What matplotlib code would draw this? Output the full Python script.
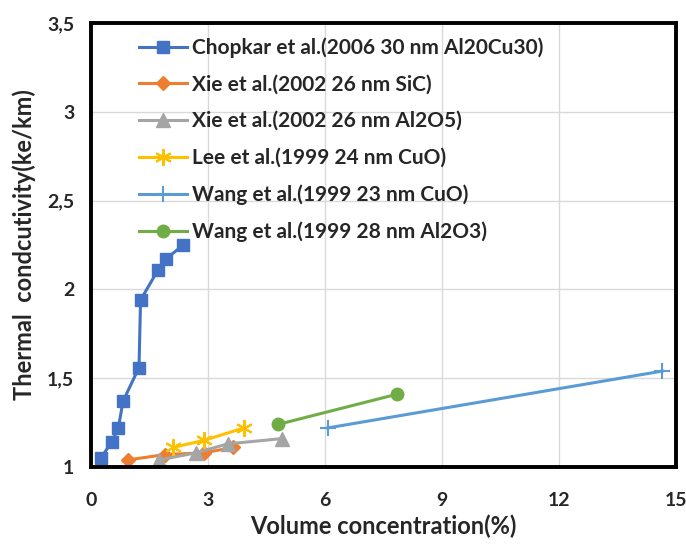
import matplotlib
matplotlib.use("Agg")
import matplotlib.pyplot as plt
from matplotlib.ticker import FuncFormatter

plt.rcParams['font.family'] = ['Lato', 'DejaVu Sans']

# volume concentration (%) and thermal conductivity ratio per study
chopkar_x = [0.25, 0.53, 0.70, 0.82, 1.23, 1.27, 1.72, 1.91, 2.37]
chopkar_y = [1.05, 1.14, 1.22, 1.37, 1.56, 1.94, 2.11, 2.17, 2.25]
xie_sic_x = [0.95, 1.90, 2.90, 3.65]
xie_sic_y = [1.04, 1.07, 1.08, 1.11]
xie_al_x = [1.75, 2.70, 3.50, 4.90]
xie_al_y = [1.04, 1.08, 1.13, 1.16]
lee_x = [2.10, 2.90, 3.92]
lee_y = [1.11, 1.15, 1.22]
wang_cuo_x = [6.07, 14.65]
wang_cuo_y = [1.22, 1.54]
wang_al_x = [4.80, 7.85]
wang_al_y = [1.24, 1.41]

labels = ['Chopkar et al.(2006 30 nm Al20Cu30)',
          'Xie et al.(2002 26 nm SiC)',
          'Xie et al.(2002 26 nm Al2O5)',
          'Lee et al.(1999 24 nm CuO)',
          'Wang et al.(1999 23 nm CuO)',
          'Wang et al.(1999 28 nm Al2O3)']

fig = plt.figure(figsize=(6.86, 5.46), dpi=100)
ax = fig.add_axes([0.1327, 0.1447, 0.8528, 0.8133])

ax.plot(chopkar_x, chopkar_y, color='#4472C4', lw=2.2, marker='s', ms=9, label=labels[0])
ax.plot(xie_sic_x, xie_sic_y, color='#ED7D31', lw=2.2, marker='D', ms=7, label=labels[1])
ax.plot(xie_al_x, xie_al_y, color='#A5A5A5', lw=2.2, marker='^', ms=10, label=labels[2])
ax.plot(lee_x, lee_y, color='#FFC000', lw=2.2, marker=(6, 2, 0), ms=12, mew=1.5, label=labels[3])
ax.plot(wang_cuo_x, wang_cuo_y, color='#5B9BD5', lw=2.2, marker='+', ms=12, mew=1.5, label=labels[4])
ax.plot(wang_al_x, wang_al_y, color='#70AD47', lw=2.2, marker='o', ms=9, label=labels[5])

ax.set_xlim(0, 15)
ax.set_ylim(1, 3.5)
ax.set_xticks([0, 3, 6, 9, 12, 15])
ax.set_yticks([1, 1.5, 2, 2.5, 3, 3.5])
ax.yaxis.set_major_formatter(FuncFormatter(lambda v, p: ('%g' % v).replace('.', ',')))
ax.grid(True, color='#D9D9D9', lw=1)
ax.set_axisbelow(True)
ax.tick_params(length=0, labelsize=14, colors='#262626')
ax.tick_params(axis='x', pad=18)
ax.tick_params(axis='y', pad=12)
for t in ax.get_xticklabels() + ax.get_yticklabels():
    t.set_fontweight('bold')
for s in ax.spines.values():
    s.set_linewidth(2.8)
    s.set_color('black')

ax.set_xlabel('Volume concentration(%)', fontsize=17, fontweight='bold', labelpad=4,
              color='#262626')
ax.set_ylabel('Thermal  condcutivity(ke/km)', fontsize=17, fontweight='bold', labelpad=8,
              color='#262626')

leg = ax.legend(loc='upper left', bbox_to_anchor=(0.05, 1.01), frameon=False,
                fontsize=15, handlelength=2.3, handletextpad=0.25, labelspacing=0.8)
for t in leg.get_texts():
    t.set_fontweight('bold')
    t.set_color('#262626')

fig.savefig('out.png', dpi=100)
